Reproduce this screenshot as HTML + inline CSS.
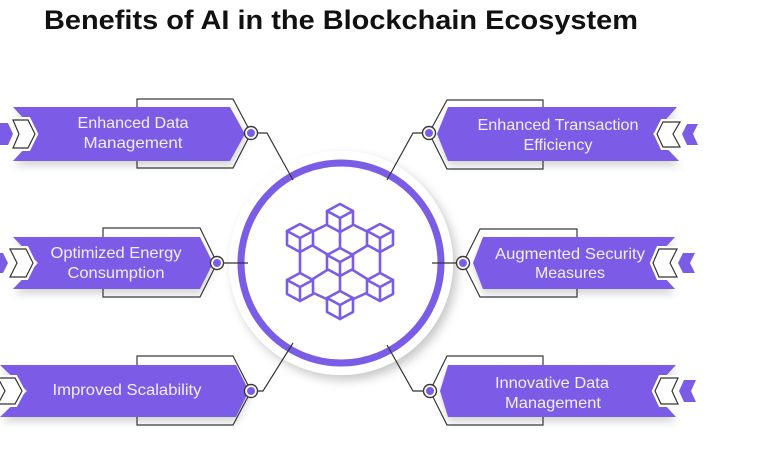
<!DOCTYPE html>
<html><head><meta charset="utf-8">
<style>
html,body{margin:0;padding:0;background:#fff;}
svg{display:block;}
</style></head>
<body>
<svg width="770" height="455" viewBox="0 0 770 455" xmlns="http://www.w3.org/2000/svg">
<defs>
  <filter id="sh" x="-20%" y="-30%" width="140%" height="170%">
    <feDropShadow dx="1" dy="5" stdDeviation="4" flood-color="#000" flood-opacity="0.16"/>
  </filter>
  <filter id="hs" x="-20%" y="-20%" width="140%" height="140%">
    <feDropShadow dx="4" dy="5" stdDeviation="5" flood-color="#000" flood-opacity="0.22"/>
  </filter>
</defs>
<rect width="770" height="455" fill="#fff"/>

<text x="44" y="29" font-family="Liberation Sans, Arial, sans-serif" font-weight="bold" font-size="27" fill="#111" textLength="594" lengthAdjust="spacingAndGlyphs">Benefits of AI in the Blockchain Ecosystem</text>

<!-- halo -->
<circle cx="341" cy="263" r="112" fill="#fff" filter="url(#hs)"/>

<!-- brackets -->
<g fill="none" stroke="#3a3a3a" stroke-width="1.2">
  <polygon points="137,99 233,99 251,133 233,168 137,168"/>
  <polygon points="103,228 200,228 217,263 200,297 103,297"/>
  <polygon points="137,356 233,356 251,391 233,425 137,425"/>
  <polygon points="543,100 447,100 429,133 447,169 543,169"/>
  <polygon points="577,229 480,229 463,263 480,297 577,297"/>
  <polygon points="543,356 447,356 430,391 447,425 543,425"/>
</g>

<!-- banners -->
<g fill="#7b5ce6" filter="url(#sh)">
  <polygon points="13,107 230,107 245,134 230,161 13,161 38,134"/>
  <polygon points="13,237 200,237 213,263 200,289 13,289 38,263"/>
  <polygon points="0,365 236,365 249,391 236,417 0,417 27,391"/>
  <polygon points="437,134 448,107 677,107 653,134 679,161 448,161"/>
  <polygon points="473,263 483,237 675,237 651,263 675,289 483,289"/>
  <polygon points="440,391 448,365 676,365 652,391 676,417 448,417"/>
</g>

<!-- chevrons -->
<g stroke="#fff" stroke-width="6" fill="#fff" stroke-linejoin="miter">
  <polygon points="13,120 28,120 35,134 28,148 13,148 19,134"/>
  <polygon points="10,249 26,249 33,263 26,277 10,277 17,263"/>
  <polygon points="-2,378 15,378 22,391 15,404 -2,404 5,391"/>
  <polygon points="657,134 663,122 680,122 673,134 680,147 663,147"/>
  <polygon points="653,263 659,249 677,249 670,263 677,277 659,277"/>
  <polygon points="655,391 661,378 678,378 672,391 678,404 661,404"/>
</g>
<g stroke="#333" stroke-width="1.2" fill="#fff">
  <polygon points="13,120 28,120 35,134 28,148 13,148 19,134"/>
  <polygon points="10,249 26,249 33,263 26,277 10,277 17,263"/>
  <polygon points="-2,378 15,378 22,391 15,404 -2,404 5,391"/>
  <polygon points="657,134 663,122 680,122 673,134 680,147 663,147"/>
  <polygon points="653,263 659,249 677,249 670,263 677,277 659,277"/>
  <polygon points="655,391 661,378 678,378 672,391 678,404 661,404"/>
</g>
<g fill="#7b5ce6">
  <polygon points="0,123 8,123 13,134 8,145 0,145"/>
  <polygon points="0,253 3,253 8,263 3,273 0,273"/>
  <polygon points="682,134 687,124 698,124 693,134 698,145 687,145"/>
  <polygon points="678,263 683,253 695,253 690,263 695,273 683,273"/>
  <polygon points="679,391 684,380 696,380 691,391 696,402 684,402"/>
</g>

<!-- ring -->
<circle cx="341" cy="263" r="100" fill="#fff" stroke="#7b5ce6" stroke-width="7"/>

<!-- connectors -->
<g fill="none" stroke="#333" stroke-width="1.2">
  <polyline points="251,133 267,133 293,180"/>
  <polyline points="429,133 413,133 387,180"/>
  <polyline points="217,263 248,263"/>
  <polyline points="463,263 432,263"/>
  <polyline points="251,391 263,391 293,343"/>
  <polyline points="430,391 413,391 387,345"/>
</g>

<!-- nodes -->
<g>
  <g stroke="#3a3a3a" stroke-width="1.4" fill="#fff">
    <circle cx="251" cy="133" r="6.5"/>
    <circle cx="429" cy="133" r="6.5"/>
    <circle cx="217" cy="263" r="6.5"/>
    <circle cx="463" cy="263" r="6.5"/>
    <circle cx="251" cy="391" r="6.5"/>
    <circle cx="430" cy="391" r="6.5"/>
  </g>
  <g fill="#7b5ce6">
    <circle cx="251" cy="133" r="4"/>
    <circle cx="429" cy="133" r="4"/>
    <circle cx="217" cy="263" r="4"/>
    <circle cx="463" cy="263" r="4"/>
    <circle cx="251" cy="391" r="4"/>
    <circle cx="430" cy="391" r="4"/>
  </g>
</g>

<!-- icon -->
<g stroke="#7b5ce6" stroke-width="2.6" fill="none" stroke-linejoin="round" stroke-linecap="round">
  <polygon points="340,218 380,238 380,287 340,305 300,287 300,238"/>
  <line x1="340" y1="218" x2="340" y2="305"/>
  <line x1="300" y1="238" x2="340" y2="262"/>
  <line x1="380" y1="238" x2="340" y2="262"/>
  <line x1="300" y1="287" x2="340" y2="262"/>
  <line x1="380" y1="287" x2="340" y2="262"/>
</g>
<g stroke="#7b5ce6" stroke-width="2.6" fill="#fff" stroke-linejoin="round" stroke-linecap="round">
  <g transform="translate(340,218)"><polygon points="0,-14 13,-7 13,7 0,14 -13,7 -13,-7"/><polyline points="-13,-7 0,0 13,-7" fill="none"/><line x1="0" y1="0" x2="0" y2="14"/></g>
  <g transform="translate(300,238)"><polygon points="0,-14 13,-7 13,7 0,14 -13,7 -13,-7"/><polyline points="-13,-7 0,0 13,-7" fill="none"/><line x1="0" y1="0" x2="0" y2="14"/></g>
  <g transform="translate(380,238)"><polygon points="0,-14 13,-7 13,7 0,14 -13,7 -13,-7"/><polyline points="-13,-7 0,0 13,-7" fill="none"/><line x1="0" y1="0" x2="0" y2="14"/></g>
  <g transform="translate(340,262)"><polygon points="0,-14 13,-7 13,7 0,14 -13,7 -13,-7"/><polyline points="-13,-7 0,0 13,-7" fill="none"/><line x1="0" y1="0" x2="0" y2="14"/></g>
  <g transform="translate(300,287)"><polygon points="0,-14 13,-7 13,7 0,14 -13,7 -13,-7"/><polyline points="-13,-7 0,0 13,-7" fill="none"/><line x1="0" y1="0" x2="0" y2="14"/></g>
  <g transform="translate(380,287)"><polygon points="0,-14 13,-7 13,7 0,14 -13,7 -13,-7"/><polyline points="-13,-7 0,0 13,-7" fill="none"/><line x1="0" y1="0" x2="0" y2="14"/></g>
  <g transform="translate(340,305)"><polygon points="0,-14 13,-7 13,7 0,14 -13,7 -13,-7"/><polyline points="-13,-7 0,0 13,-7" fill="none"/><line x1="0" y1="0" x2="0" y2="14"/></g>
</g>

<!-- labels -->
<g font-family="Liberation Sans, Arial, sans-serif" font-size="16" fill="#f2eeff" text-anchor="middle" lengthAdjust="spacingAndGlyphs">
  <text x="133" y="128" textLength="111" lengthAdjust="spacingAndGlyphs">Enhanced Data</text>
  <text x="133" y="148" textLength="99" lengthAdjust="spacingAndGlyphs">Management</text>
  <text x="558" y="130" textLength="161" lengthAdjust="spacingAndGlyphs">Enhanced Transaction</text>
  <text x="558" y="150" textLength="69" lengthAdjust="spacingAndGlyphs">Efficiency</text>
  <text x="116" y="258" textLength="131" lengthAdjust="spacingAndGlyphs">Optimized Energy</text>
  <text x="116" y="278" textLength="97" lengthAdjust="spacingAndGlyphs">Consumption</text>
  <text x="570" y="259" textLength="150" lengthAdjust="spacingAndGlyphs">Augmented Security</text>
  <text x="570" y="278" textLength="70" lengthAdjust="spacingAndGlyphs">Measures</text>
  <text x="127" y="395" textLength="149" lengthAdjust="spacingAndGlyphs">Improved Scalability</text>
  <text x="552" y="388" textLength="114" lengthAdjust="spacingAndGlyphs">Innovative Data</text>
  <text x="553" y="408" textLength="96" lengthAdjust="spacingAndGlyphs">Management</text>
</g>
</svg>
</body></html>
